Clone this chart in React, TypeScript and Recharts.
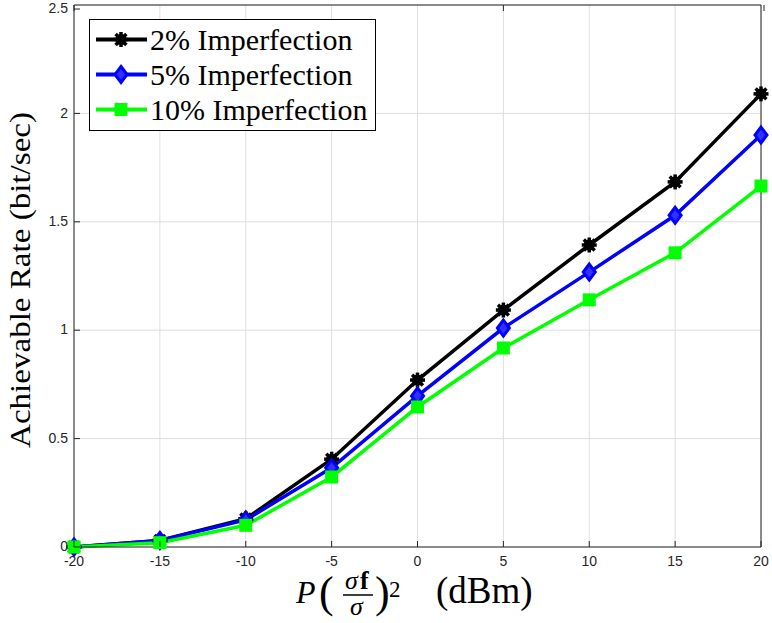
import React from 'react';
import { LineChart, Line, XAxis, YAxis, CartesianGrid, Legend } from 'recharts';

const powerDbm = [-20, -15, -10, -5, 0, 5, 10, 15, 20];
const rate2 = [0.0, 0.03, 0.13, 0.405, 0.77, 1.093, 1.393, 1.684, 2.09];
const rate5 = [0.0, 0.03, 0.125, 0.365, 0.697, 1.01, 1.268, 1.53, 1.9];
const rate10 = [0.0, 0.02, 0.1, 0.323, 0.646, 0.918, 1.14, 1.357, 1.665];

const xTicks = [-20, -15, -10, -5, 0, 5, 10, 15, 20];
const yTicks = [0, 0.5, 1, 1.5, 2, 2.5];

const data = powerDbm.map((p, i) => ({ p, r2: rate2[i], r5: rate5[i], r10: rate10[i] }));

const AXIS = '#262626';
const GRID = '#dedede';
const SERIF = '"Liberation Serif", "Times New Roman", serif';
const SANS = '"Liberation Sans", Arial, sans-serif';

const Asterisk = ({ cx, cy }: { cx: number; cy: number }) => {
  const r = 7.5;
  const d = r * 0.72;
  return (
    <g>
      <circle cx={cx} cy={cy} r={5.5} fill="#000" />
      <line x1={cx - r} y1={cy} x2={cx + r} y2={cy} stroke="#000" strokeWidth={3.5} />
      <line x1={cx} y1={cy - r} x2={cx} y2={cy + r} stroke="#000" strokeWidth={3.5} />
      <line x1={cx - d} y1={cy - d} x2={cx + d} y2={cy + d} stroke="#000" strokeWidth={3.5} />
      <line x1={cx - d} y1={cy + d} x2={cx + d} y2={cy - d} stroke="#000" strokeWidth={3.5} />
    </g>
  );
};

const Diamond = ({ cx, cy }: { cx: number; cy: number }) => (
  <polygon
    points={`${cx},${cy - 8} ${cx + 6},${cy} ${cx},${cy + 8} ${cx - 6},${cy}`}
    fill="#3030ff"
    stroke="#0000ff"
    strokeWidth={3}
  />
);

const Square = ({ cx, cy }: { cx: number; cy: number }) => (
  <rect x={cx - 6.5} y={cy - 6.5} width={13} height={13} fill="#00ff00" />
);

const series = [
  { key: 'r2', name: '2% Imperfection', color: '#000000', Marker: Asterisk },
  { key: 'r5', name: '5% Imperfection', color: '#0000ff', Marker: Diamond },
  { key: 'r10', name: '10% Imperfection', color: '#00ff00', Marker: Square },
];

const renderLegend = () => (
  <div
    style={{
      width: 285,
      height: 108,
      border: '1px solid #000',
      background: '#fff',
      boxSizing: 'content-box',
      paddingTop: 2,
    }}
  >
    {series.map((s) => (
      <div key={s.key} style={{ display: 'flex', alignItems: 'center', height: 35 }}>
        <svg width={60} height={35} style={{ flex: 'none' }}>
          <line x1={6} y1={17.5} x2={57} y2={17.5} stroke={s.color} strokeWidth={4} />
          <s.Marker cx={31} cy={17.5} />
        </svg>
        <span style={{ fontFamily: SERIF, fontSize: 30, color: '#000', lineHeight: '35px', whiteSpace: 'nowrap' }}>
          {s.name}
        </span>
      </div>
    ))}
  </div>
);

const BottomTick = (props: any) => {
  const { x, y, payload } = props;
  const axisY = y - 9;
  return (
    <g>
      <line x1={x} y1={axisY} x2={x} y2={axisY - 6} stroke={AXIS} strokeWidth={1} />
      <text x={x} y={y} dy="0.71em" textAnchor="middle" fontFamily={SANS} fontSize={14} fill={AXIS}>
        {payload.value}
      </text>
    </g>
  );
};

const LeftTick = (props: any) => {
  const { x, y, payload } = props;
  const axisX = x + 6;
  return (
    <g>
      <line x1={axisX} y1={y} x2={axisX + 6} y2={y} stroke={AXIS} strokeWidth={1} />
      <text x={x} y={y} dy="0.3em" textAnchor="end" fontFamily={SANS} fontSize={14} fill={AXIS}>
        {payload.value}
      </text>
    </g>
  );
};

const TopTick = (props: any) => {
  const { x, y } = props;
  return <line x1={x} y1={y} x2={x} y2={y + 6} stroke={AXIS} strokeWidth={1} />;
};

const RightTick = (props: any) => {
  const { x, y } = props;
  return <line x1={x} y1={y} x2={x - 6} y2={y} stroke={AXIS} strokeWidth={1} />;
};

const XLabel = (props: any) => {
  const vb = props.viewBox;
  const x0 = vb.x;
  const b = vb.y;
  return (
    <g fontFamily={SERIF} fill="#000">
      <text x={x0 + 222} y={b + 56} fontSize={32} fontStyle="italic">P</text>
      <text x={x0 + 245} y={b + 60} fontSize={44}>(</text>
      <text x={x0 + 271} y={b + 42} fontSize={26} fontStyle="italic">σ</text>
      <text x={x0 + 286} y={b + 42} fontSize={26} fontWeight="bold">f</text>
      <line x1={x0 + 269} y1={b + 48} x2={x0 + 299} y2={b + 48} stroke="#000" strokeWidth={1.5} />
      <text x={x0 + 276} y={b + 68} fontSize={26} fontStyle="italic">σ</text>
      <text x={x0 + 301} y={b + 60} fontSize={44}>)</text>
      <text x={x0 + 315} y={b + 50} fontSize={23}>2</text>
      <text x={x0 + 362} y={b + 56} fontSize={37}>(dBm)</text>
    </g>
  );
};

const YLabel = (props: any) => {
  const vb = props.viewBox;
  const cx = vb.x + vb.width - 44;
  const cy = vb.y + vb.height / 2 + 4;
  return (
    <text
      x={cx}
      y={cy}
      transform={`rotate(-90, ${cx}, ${cy})`}
      textAnchor="middle"
      fontFamily={SERIF}
      fontSize={30}
      fill="#000"
      textLength={336}
      lengthAdjust="spacingAndGlyphs"
    >
      Achievable Rate (bit/sec)
    </text>
  );
};

export default function App() {
  return (
    <div style={{ position: 'absolute', left: 0, top: 0, width: 772, height: 623, background: '#fff' }}>
      <LineChart width={772} height={623} data={data} margin={{ top: 4, right: 10, bottom: 75, left: 73 }}>
        <CartesianGrid stroke={GRID} strokeWidth={1} horizontalValues={yTicks} verticalValues={xTicks} />
        <XAxis
          dataKey="p"
          type="number"
          domain={[-20, 20]}
          ticks={xTicks}
          height={1}
          tickSize={0}
          tickMargin={9}
          tickLine={false}
          tick={BottomTick}
          axisLine={{ stroke: AXIS }}
          label={<XLabel />}
        />
        <XAxis
          xAxisId="top"
          orientation="top"
          type="number"
          domain={[-20, 20]}
          ticks={xTicks}
          height={1}
          tickSize={0}
          tickMargin={0}
          tickLine={false}
          tick={TopTick}
          axisLine={{ stroke: AXIS }}
        />
        <YAxis
          type="number"
          domain={[0, 2.5]}
          ticks={yTicks}
          width={1}
          tickSize={0}
          tickMargin={6}
          tickLine={false}
          tick={LeftTick}
          axisLine={{ stroke: AXIS }}
          label={<YLabel />}
        />
        <YAxis
          yAxisId="right"
          orientation="right"
          type="number"
          domain={[0, 2.5]}
          ticks={yTicks}
          width={1}
          tickSize={0}
          tickMargin={0}
          tickLine={false}
          tick={RightTick}
          axisLine={{ stroke: AXIS }}
        />
        <Legend
          layout="vertical"
          align="center"
          verticalAlign="middle"
          content={renderLegend}
          wrapperStyle={{ left: 89, top: 19, width: 'auto' }}
        />
        {series.map((s) => (
          <Line
            key={s.key}
            dataKey={s.key}
            name={s.name}
            stroke={s.color}
            strokeWidth={3.5}
            isAnimationActive={false}
            dot={(p: any) => <s.Marker key={`${s.key}-${p.index}`} cx={p.cx} cy={p.cy} />}
            activeDot={false}
          />
        ))}
      </LineChart>
    </div>
  );
}
